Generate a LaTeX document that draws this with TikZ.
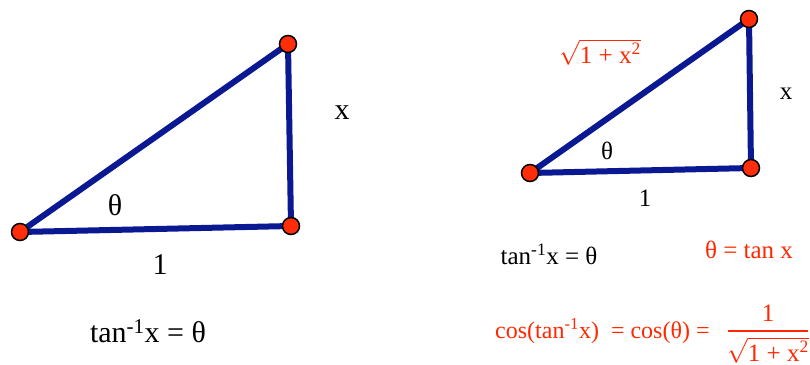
\documentclass[tikz,border=0pt]{standalone}
\usepackage{fontspec}
\setmainfont{Liberation Serif}
\definecolor{navy}{RGB}{10,25,145}
\definecolor{myred}{RGB}{255,40,0}
\definecolor{dotred}{RGB}{255,45,10}
\tikzset{
  side/.style={draw=navy,line width=6pt,line join=round},
  dot/.style={circle,draw=black,line width=1.5pt,fill=dotred,inner sep=0pt,minimum size=17pt},
  big/.style={font=\fontsize{30}{34}\selectfont,inner sep=0pt},
  med/.style={font=\fontsize{25}{29}\selectfont,inner sep=0pt},
  redt/.style={text=myred}
}
\begin{document}
\begin{tikzpicture}[x=1pt,y=-1pt]
\useasboundingbox (0,0) rectangle (810,364);
% left triangle
\coordinate (A) at (20,232);
\coordinate (B) at (291,226);
\coordinate (C) at (288,44);
\draw[side] (A) -- (B) -- (C) -- cycle;
\node[dot] (a) at (A) {};
\node[dot] (b) at (B) {};
\node[dot] (c) at (C) {};
\node[big] (lth) at (115,205) {θ};
\node[big] (lone) at (160,265) {1};
\node[big] (lx) at (342,113) {x};
\node[big] (ltan) at (148,331) {tan\textsuperscript{-1}x = θ};
% right triangle
\coordinate (D) at (530,173);
\coordinate (E) at (751,168);
\coordinate (F) at (749,19);
\draw[side] (D) -- (E) -- (F) -- cycle;
\node[dot] (d) at (D) {};
\node[dot] (e) at (E) {};
\node[dot] (f) at (F) {};
\node[med,redt] (hyp) at (600,52) {$\sqrt{\mbox{1 + x\textsuperscript{2}}}$};
\node[med] (rth) at (607,151) {θ};
\node[med] (rone) at (645,198) {1};
\node[med] (rx) at (786,94) {x};
\node[med] (rtan) at (549,254) {tan\textsuperscript{-1}x = θ};
\node[med,redt] (rdef) at (749,250) {θ = tan x};
\node[redt,inner sep=0pt,font=\fontsize{24}{28}\selectfont,anchor=west] (cosl) at (495,331) {cos(tan\textsuperscript{-1}x)\ \ = cos(θ) =};
\node[med,redt] (num) at (768,313) {1};
\coordinate (fl) at (728,331);
\coordinate (fr) at (808,331);
\draw[myred,line width=2.4pt] (fl) -- (fr);
\node[med,redt,anchor=north] (den) at (768,337) {$\sqrt{\mbox{1 + x\textsuperscript{2}}}$};
\end{tikzpicture}
\end{document}
